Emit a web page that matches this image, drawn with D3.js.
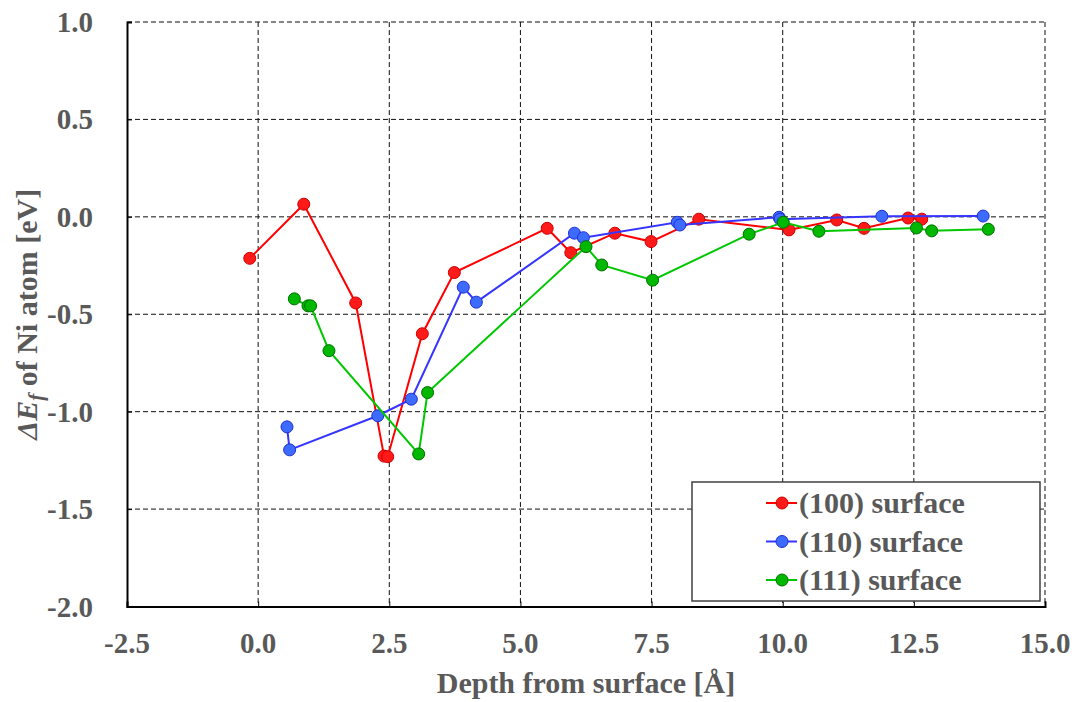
<!DOCTYPE html>
<html>
<head>
<meta charset="utf-8">
<script src="https://cdn.jsdelivr.net/npm/d3@7"></script>
<style>
  html, body { margin: 0; padding: 0; background: #fff; }
  svg { display: block; }
</style>
</head>
<body>
<svg id="chart" width="1075" height="702"></svg>
<script>
// Formation energy change of a Ni atom vs. depth below each surface
const depth100 = [-0.16, 0.87, 1.86, 2.40, 2.47, 3.13, 3.74, 5.51, 5.96, 6.80, 7.49, 8.40, 10.12, 11.03, 11.55, 12.39, 12.65];
const dE100    = [-0.213, 0.065, -0.442, -1.228, -1.231, -0.600, -0.286, -0.059, -0.184, -0.084, -0.127, -0.012, -0.067, -0.016, -0.059, -0.006, -0.012];

const depth110 = [0.55, 0.60, 2.28, 2.92, 3.91, 4.16, 6.03, 6.20, 7.99, 8.04, 9.93, 9.95, 11.89, 13.82];
const dE110    = [-1.078, -1.196, -1.021, -0.936, -0.361, -0.438, -0.084, -0.107, -0.028, -0.042, -0.002, -0.012, 0.003, 0.004];

const depth111 = [0.69, 0.95, 1.00, 1.35, 3.06, 3.23, 6.25, 6.55, 7.52, 9.36, 10.01, 10.69, 12.55, 12.84, 13.92];
const dE111    = [-0.421, -0.457, -0.457, -0.687, -1.217, -0.902, -0.153, -0.247, -0.325, -0.089, -0.028, -0.074, -0.057, -0.072, -0.064];

const seriesNames = ["(100) surface", "(110) surface", "(111) surface"];
const xTicks = [-2.5, 0, 2.5, 5, 7.5, 10, 12.5, 15];
const yTicks = [-2.0, -1.5, -1.0, -0.5, 0.0, 0.5, 1.0];

const series = [
  { name: seriesNames[0], x: depth100, y: dE100, line: "#ff0000", fill: "#ff1a1a", edge: "#cc0000" },
  { name: seriesNames[1], x: depth110, y: dE110, line: "#3535ff", fill: "#3d6bff", edge: "#1f2fd0" },
  { name: seriesNames[2], x: depth111, y: dE111, line: "#00c800", fill: "#00b800", edge: "#006e00" }
];

const svg = d3.select("#chart");
const M = { left: 127, right: 1045, top: 22, bottom: 606.5 };
const x = d3.scaleLinear().domain([-2.5, 15]).range([M.left, M.right]);
const y = d3.scaleLinear().domain([-2, 1]).range([M.bottom, M.top]);

const grey = "#595959";
const fontFam = "'Liberation Serif', 'Times New Roman', serif";
const fmt = d => d3.format(".1f")(d).replace("\u2212", "-");

// dashed grid
const grid = svg.append("g");
grid.selectAll(".gx").data(xTicks.filter(t => t > -2.5)).enter().append("line")
  .attr("x1", d => x(d)).attr("x2", d => x(d))
  .attr("y1", M.top).attr("y2", M.bottom)
  .attr("stroke", "#111").attr("stroke-width", 1).attr("stroke-dasharray", "5,3");
grid.selectAll(".gy").data(yTicks.filter(t => t > -2)).enter().append("line")
  .attr("y1", d => y(d)).attr("y2", d => y(d))
  .attr("x1", M.left).attr("x2", M.right)
  .attr("stroke", "#111").attr("stroke-width", 1).attr("stroke-dasharray", "5,3");

// axes with inward ticks
const xAxis = d3.axisTop(x).tickValues(xTicks).tickSize(5).tickFormat("");
svg.append("g").attr("transform", `translate(0,${M.bottom})`).call(xAxis)
  .call(g => g.select(".domain").attr("stroke", "#000").attr("stroke-width", 2))
  .call(g => g.selectAll(".tick line").attr("stroke", "#000").attr("stroke-width", 1));
const yAxis = d3.axisRight(y).tickValues(yTicks).tickSize(5).tickFormat("");
svg.append("g").attr("transform", `translate(${M.left},0)`).call(yAxis)
  .call(g => g.select(".domain").attr("stroke", "#000").attr("stroke-width", 2))
  .call(g => g.selectAll(".tick line").attr("stroke", "#000").attr("stroke-width", 1));

// tick labels
svg.append("g").selectAll("text").data(xTicks).enter().append("text")
  .attr("x", d => x(d)).attr("y", 653)
  .attr("text-anchor", "middle")
  .attr("font-family", fontFam).attr("font-weight", "bold").attr("font-size", 29)
  .attr("fill", grey).text(fmt);
svg.append("g").selectAll("text").data(yTicks).enter().append("text")
  .attr("x", 93).attr("y", d => y(d) + 10)
  .attr("text-anchor", "end")
  .attr("font-family", fontFam).attr("font-weight", "bold").attr("font-size", 29)
  .attr("fill", grey).text(fmt);

// axis titles
svg.append("text")
  .attr("x", (M.left + M.right) / 2).attr("y", 693)
  .attr("text-anchor", "middle")
  .attr("font-family", fontFam).attr("font-weight", "bold").attr("font-size", 30)
  .attr("fill", grey).text("Depth from surface [Å]");

const yt = svg.append("text")
  .attr("transform", `translate(37,${(M.top + M.bottom) / 2}) rotate(-90)`)
  .attr("text-anchor", "middle")
  .attr("font-family", fontFam).attr("font-weight", "bold").attr("font-size", 30)
  .attr("fill", grey);
yt.append("tspan").attr("font-style", "italic").text("ΔE");
yt.append("tspan").attr("font-style", "italic").attr("font-size", 21).attr("dy", 6).text("f");
yt.append("tspan").attr("dy", -6).text(" of Ni atom [eV]");

// series lines and markers
const line = d3.line().x(d => x(d[0])).y(d => y(d[1]));
series.forEach(s => {
  const pts = s.x.map((v, i) => [v, s.y[i]]);
  const g = svg.append("g");
  g.append("path").datum(pts).attr("d", line)
    .attr("fill", "none").attr("stroke", s.line).attr("stroke-width", 2);
  g.selectAll("circle").data(pts).enter().append("circle")
    .attr("cx", d => x(d[0])).attr("cy", d => y(d[1])).attr("r", 6)
    .attr("fill", s.fill).attr("stroke", s.edge).attr("stroke-width", 1);
});

// legend
const lg = svg.append("g");
lg.append("rect").attr("x", 692).attr("y", 482).attr("width", 348).attr("height", 119)
  .attr("fill", "#fff").attr("stroke", "#404040").attr("stroke-width", 1.5);
series.forEach((s, i) => {
  const cy = 503 + i * 38.5;
  lg.append("line").attr("x1", 766).attr("x2", 797).attr("y1", cy).attr("y2", cy)
    .attr("stroke", s.line).attr("stroke-width", 2);
  lg.append("circle").attr("cx", 782).attr("cy", cy).attr("r", 6)
    .attr("fill", s.fill).attr("stroke", s.edge).attr("stroke-width", 1);
  lg.append("text").attr("x", 799).attr("y", cy + 10)
    .attr("font-family", fontFam).attr("font-weight", "bold").attr("font-size", 30)
    .attr("fill", grey).text(s.name);
});
</script>
</body>
</html>
